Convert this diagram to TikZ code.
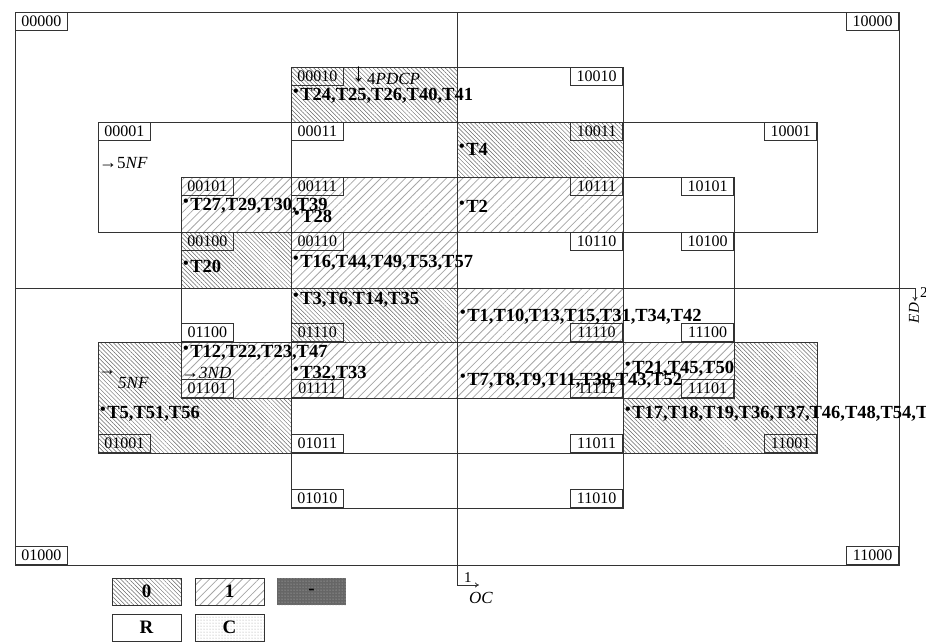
\documentclass[tikz,border=0pt]{standalone}
\usepackage{fontspec}
\setmainfont{Liberation Serif}
\usetikzlibrary{arrows.meta,patterns,patterns.meta}
\newcommand{\tbul}{\raisebox{3.5pt}{\fontsize{16}{16}\selectfont\textbullet}\hspace{1.5pt}}
\newcommand{\varr}[1]{{\fontsize{18}{18}\selectfont #1}}

\begin{document}
\begin{tikzpicture}[x=1pt,y=-1pt,
  frame/.style={draw=black!80,line width=1pt},
  zerofill/.style={pattern={Lines[angle=-45,distance=3pt,line width=0.5pt]},pattern color=black!60},
  onefill/.style={pattern={Lines[angle=45,distance=5.8pt,line width=0.8pt]},pattern color=black!35},
  codelbl/.style={draw=black!80,line width=0.8pt,minimum width=52pt,minimum height=18pt,inner sep=0pt,font=\fontsize{16}{16}\selectfont},
  tlist/.style={anchor=base west,inner sep=0pt,font=\fontsize{18.5}{19}\selectfont\bfseries},
  varlbl/.style={anchor=base west,inner sep=0pt,font=\fontsize{17}{17}\selectfont},
  arr/.style={-{To[length=4pt,width=5pt]},line width=0.8pt,draw=black!80},
  legbox/.style={draw=black!80,line width=1pt,minimum width=69pt,minimum height=27pt,inner sep=0pt,font=\fontsize{19}{19}\selectfont\bfseries}]
  \useasboundingbox (0,0) rectangle (926,641);
  % hatched cells
  \path[zerofill] (291,67) rectangle (457,122);
  \path[zerofill] (457,122) rectangle (623,177);
  \path[zerofill] (181,232) rectangle (291,288);
  \path[zerofill] (291,288) rectangle (457,342);
  \path[zerofill] (98,342)--(181,342)--(181,398)--(291,398)--(291,453)--(98,453)--cycle;
  \path[zerofill] (817,342)--(734,342)--(734,398)--(623,398)--(623,453)--(817,453)--cycle;
  \path[onefill] (181,177) rectangle (623,232);
  \path[onefill] (291,232) rectangle (457,288);
  \path[onefill] (457,288) rectangle (623,342);
  \path[onefill] (181,342) rectangle (734,398);
  % frames
  \draw[frame] (15,12) rectangle (899,565);
  \draw[frame] (291,67) rectangle (623,508);
  \draw[frame] (98,122) rectangle (817,232);
  \draw[frame] (98,342) rectangle (817,453);
  \draw[frame] (181,177) rectangle (734,398);
  \coordinate (vtop) at (457,12); \coordinate (vend) at (479,585);
  \coordinate (hleft) at (15,288); \coordinate (hend) at (915,301);
  \draw[arr] (vtop) |- (vend);
  \draw[arr] (hleft) -| (hend);
  % cell codes
  \node[codelbl,anchor=north west] (c00000) at (15,12) {00000};
  \node[codelbl,anchor=north east] (c10000) at (899,12) {10000};
  \node[codelbl,anchor=south west] (c01000) at (15,565) {01000};
  \node[codelbl,anchor=south east] (c11000) at (899,565) {11000};
  \node[codelbl,anchor=north west] (c00010) at (291,67) {00010};
  \node[codelbl,anchor=north east] (c10010) at (623,67) {10010};
  \node[codelbl,anchor=north west] (c00001) at (98,122) {00001};
  \node[codelbl,anchor=north east] (c10001) at (817,122) {10001};
  \node[codelbl,anchor=north west] (c00011) at (291,122) {00011};
  \node[codelbl,anchor=north east] (c10011) at (623,122) {10011};
  \node[codelbl,anchor=north west] (c00101) at (181,177) {00101};
  \node[codelbl,anchor=north east] (c10101) at (734,177) {10101};
  \node[codelbl,anchor=north west] (c00111) at (291,177) {00111};
  \node[codelbl,anchor=north east] (c10111) at (623,177) {10111};
  \node[codelbl,anchor=north west] (c00100) at (181,232) {00100};
  \node[codelbl,anchor=north east] (c10100) at (734,232) {10100};
  \node[codelbl,anchor=north west] (c00110) at (291,232) {00110};
  \node[codelbl,anchor=north east] (c10110) at (623,232) {10110};
  \node[codelbl,anchor=south west] (c01100) at (181,342) {01100};
  \node[codelbl,anchor=south east] (c11100) at (734,342) {11100};
  \node[codelbl,anchor=south west] (c01110) at (291,342) {01110};
  \node[codelbl,anchor=south east] (c11110) at (623,342) {11110};
  \node[codelbl,anchor=south west] (c01101) at (181,398) {01101};
  \node[codelbl,anchor=south east] (c11101) at (734,398) {11101};
  \node[codelbl,anchor=south west] (c01111) at (291,398) {01111};
  \node[codelbl,anchor=south east] (c11111) at (623,398) {11111};
  \node[codelbl,anchor=south west] (c01001) at (98,453) {01001};
  \node[codelbl,anchor=south east] (c11001) at (817,453) {11001};
  \node[codelbl,anchor=south west] (c01011) at (291,453) {01011};
  \node[codelbl,anchor=south east] (c11011) at (623,453) {11011};
  \node[codelbl,anchor=south west] (c01010) at (291,508) {01010};
  \node[codelbl,anchor=south east] (c11010) at (623,508) {11010};
  % task lists
  \node[tlist] (t24) at (293,100) {\tbul T24,T25,T26,T40,T41};
  \node[tlist] (t4) at (459,155) {\tbul T4};
  \node[tlist] (t27) at (183,210) {\tbul T27,T29,T30,T39};
  \node[tlist] (t28) at (294,222) {\tbul T28};
  \node[tlist] (t2) at (459,212) {\tbul T2};
  \node[tlist] (t20) at (183,272) {\tbul T20};
  \node[tlist] (t16) at (293,267) {\tbul T16,T44,T49,T53,T57};
  \node[tlist] (t3) at (293,304) {\tbul T3,T6,T14,T35};
  \node[tlist] (t1) at (460,321) {\tbul T1,T10,T13,T15,T31,T34,T42};
  \node[tlist] (t12) at (183,357) {\tbul T12,T22,T23,T47};
  \node[tlist] (t32) at (293,378) {\tbul T32,T33};
  \node[tlist] (t7) at (460,385) {\tbul T7,T8,T9,T11,T38,T43,T52};
  \node[tlist] (t21) at (625,373) {\tbul T21,T45,T50};
  \node[tlist] (t17) at (625,418) {\tbul T17,T18,T19,T36,T37,T46,T48,T54,T55};
  \node[tlist] (t5) at (100,418) {\tbul T5,T51,T56};
  % variables
  \node[varlbl] (nfup) at (99,168) {\varr{→}5\textit{NF}};
  \node[varlbl] (nfarr) at (98,375) {\varr{→}};
  \node[varlbl] (nfdown) at (118,388) {\textit{5NF}};
  \node[varlbl] (nd) at (181,378) {\varr{→}\textit{3ND}};
  \node[varlbl] (pdcparr) at (352,81) {{\fontsize{26}{26}\selectfont ↓}};
  \node[varlbl] (pdcp) at (367,84) {4\textit{PDCP}};
  \node[varlbl,font=\fontsize{15}{15}\selectfont] (one) at (464,582) {1};
  \node[varlbl] (oc) at (469,603) {\textit{OC}};
  \node[varlbl,font=\fontsize{15}{15}\selectfont] (two) at (920,297) {2};
  \node[inner sep=0pt,rotate=90,font=\fontsize{15}{15}\selectfont] (ed) at (914,313) {\textit{ED}};
  % legend
  \node[legbox,zerofill] (legzero) at (146.5,591.5) {0};
  \node[legbox,onefill] (legone) at (229.5,591.5) {1};
  \node[legbox,draw=none,fill=black!60,postaction={pattern=dots,pattern color=black!25}] (legdc) at (311.5,591.5) {-};
  \node[legbox] (legr) at (146.5,627.5) {R};
  \node[legbox,pattern=dots,pattern color=black!40] (legc) at (229.5,627.5) {C};
\end{tikzpicture}
\end{document}
